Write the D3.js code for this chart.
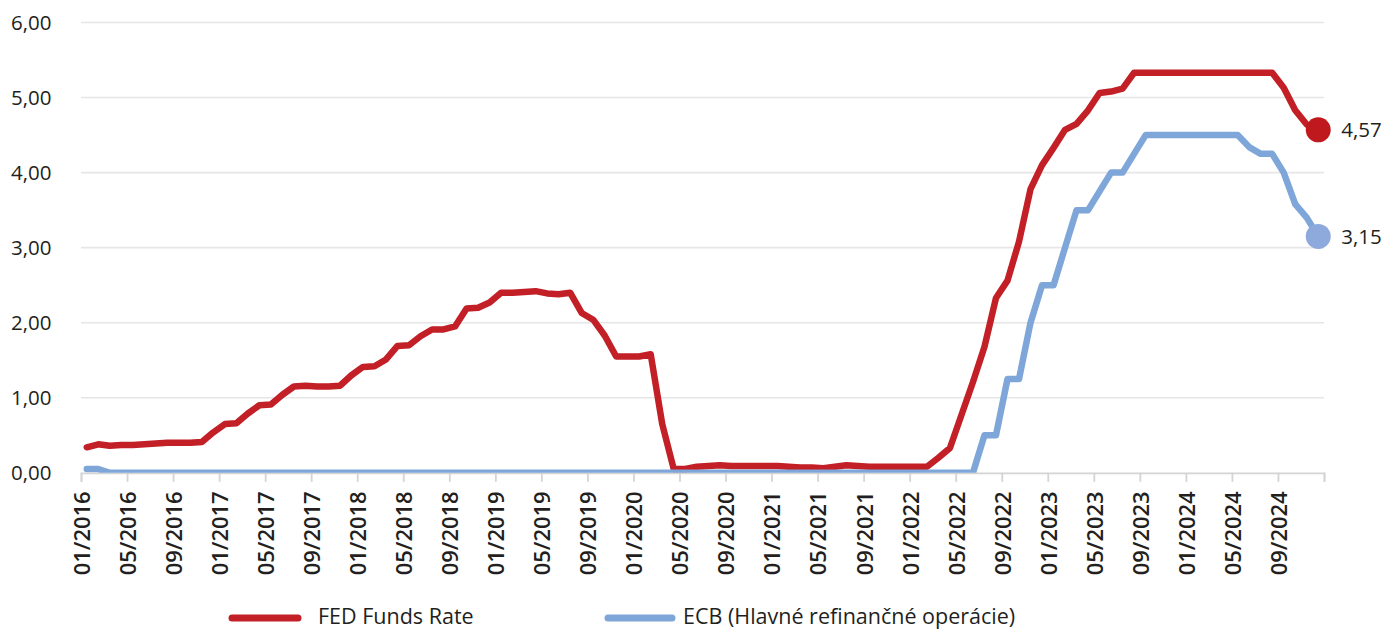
<!DOCTYPE html>
<html>
<head>
<meta charset="utf-8">
<script src="https://cdn.jsdelivr.net/npm/d3@7"></script>
<style>
  html, body { margin: 0; padding: 0; background: #ffffff; }
  svg { display: block; font-family: "Open Sans", "Noto Sans", sans-serif; }
</style>
</head>
<body>
<svg id="chart" width="1382" height="631"></svg>
<script>
// Monthly categories, 01/2016 – 12/2024
const months = [
  "01/2016","02/2016","03/2016","04/2016","05/2016","06/2016","07/2016","08/2016","09/2016","10/2016","11/2016","12/2016",
  "01/2017","02/2017","03/2017","04/2017","05/2017","06/2017","07/2017","08/2017","09/2017","10/2017","11/2017","12/2017",
  "01/2018","02/2018","03/2018","04/2018","05/2018","06/2018","07/2018","08/2018","09/2018","10/2018","11/2018","12/2018",
  "01/2019","02/2019","03/2019","04/2019","05/2019","06/2019","07/2019","08/2019","09/2019","10/2019","11/2019","12/2019",
  "01/2020","02/2020","03/2020","04/2020","05/2020","06/2020","07/2020","08/2020","09/2020","10/2020","11/2020","12/2020",
  "01/2021","02/2021","03/2021","04/2021","05/2021","06/2021","07/2021","08/2021","09/2021","10/2021","11/2021","12/2021",
  "01/2022","02/2022","03/2022","04/2022","05/2022","06/2022","07/2022","08/2022","09/2022","10/2022","11/2022","12/2022",
  "01/2023","02/2023","03/2023","04/2023","05/2023","06/2023","07/2023","08/2023","09/2023","10/2023","11/2023","12/2023",
  "01/2024","02/2024","03/2024","04/2024","05/2024","06/2024","07/2024","08/2024","09/2024","10/2024","11/2024","12/2024"
];

// FED Funds Rate (%)
const fedRate = [
  0.34, 0.38, 0.36, 0.37, 0.37, 0.38, 0.39, 0.40, 0.40, 0.40, 0.41, 0.54,
  0.65, 0.66, 0.79, 0.90, 0.91, 1.04, 1.15, 1.16, 1.15, 1.15, 1.16, 1.30,
  1.41, 1.42, 1.51, 1.69, 1.70, 1.82, 1.91, 1.91, 1.95, 2.19, 2.20, 2.27,
  2.40, 2.40, 2.41, 2.42, 2.39, 2.38, 2.40, 2.13, 2.04, 1.83, 1.55, 1.55,
  1.55, 1.58, 0.65, 0.05, 0.05, 0.08, 0.09, 0.10, 0.09, 0.09, 0.09, 0.09,
  0.09, 0.08, 0.07, 0.07, 0.06, 0.08, 0.10, 0.09, 0.08, 0.08, 0.08, 0.08,
  0.08, 0.08, 0.20, 0.33, 0.77, 1.21, 1.68, 2.33, 2.56, 3.08, 3.78, 4.10,
  4.33, 4.57, 4.65, 4.83, 5.06, 5.08, 5.12, 5.33, 5.33, 5.33, 5.33, 5.33,
  5.33, 5.33, 5.33, 5.33, 5.33, 5.33, 5.33, 5.33, 5.13, 4.83, 4.64, 4.57
];

// ECB main refinancing operations rate (%)
const ecbRate = [
  0.05, 0.05, 0.00, 0.00, 0.00, 0.00, 0.00, 0.00, 0.00, 0.00, 0.00, 0.00,
  0.00, 0.00, 0.00, 0.00, 0.00, 0.00, 0.00, 0.00, 0.00, 0.00, 0.00, 0.00,
  0.00, 0.00, 0.00, 0.00, 0.00, 0.00, 0.00, 0.00, 0.00, 0.00, 0.00, 0.00,
  0.00, 0.00, 0.00, 0.00, 0.00, 0.00, 0.00, 0.00, 0.00, 0.00, 0.00, 0.00,
  0.00, 0.00, 0.00, 0.00, 0.00, 0.00, 0.00, 0.00, 0.00, 0.00, 0.00, 0.00,
  0.00, 0.00, 0.00, 0.00, 0.00, 0.00, 0.00, 0.00, 0.00, 0.00, 0.00, 0.00,
  0.00, 0.00, 0.00, 0.00, 0.00, 0.00, 0.50, 0.50, 1.25, 1.25, 2.00, 2.50,
  2.50, 3.00, 3.50, 3.50, 3.75, 4.00, 4.00, 4.25, 4.50, 4.50, 4.50, 4.50,
  4.50, 4.50, 4.50, 4.50, 4.50, 4.34, 4.25, 4.25, 4.00, 3.58, 3.40, 3.15
];

// Axis labels
const xTickLabels = [
  "01/2016","05/2016","09/2016","01/2017","05/2017","09/2017","01/2018","05/2018","09/2018",
  "01/2019","05/2019","09/2019","01/2020","05/2020","09/2020","01/2021","05/2021","09/2021",
  "01/2022","05/2022","09/2022","01/2023","05/2023","09/2023","01/2024","05/2024","09/2024"
];
const yTicks = [0, 1, 2, 3, 4, 5, 6];

const seriesNames = ["FED Funds Rate", "ECB (Hlavné refinančné operácie)"];
const seriesColors = ["#c21f26", "#7fa6d8"];
const markerColors = ["#c0191d", "#8eaadc"];

const svg = d3.select("#chart");
const plot = { left: 81, right: 1324, top: 22.5, bottom: 472.8 };

// Category axis: each month occupies one slot, points sit at slot centres
const x = d3.scaleLinear().domain([0, months.length]).range([plot.left, plot.right]);
const y = d3.scaleLinear().domain([0, 6]).range([plot.bottom, plot.top]);
const fmt = v => d3.format(".2f")(v).replace(".", ",");

// Horizontal gridlines
svg.append("g")
  .selectAll("line")
  .data(yTicks.filter(d => d > 0))
  .join("line")
  .attr("x1", plot.left).attr("x2", plot.right)
  .attr("y1", d => y(d)).attr("y2", d => y(d))
  .attr("stroke", "#e6e6e6").attr("stroke-width", 1.6);

// Y labels
svg.append("g")
  .selectAll("text")
  .data(yTicks)
  .join("text")
  .attr("x", 51.5)
  .attr("y", d => y(d))
  .attr("dy", "0.36em")
  .attr("text-anchor", "end")
  .attr("font-size", 20.5)
  .attr("fill", "#231f20")
  .text(fmt);

// X axis
const xAxis = d3.axisBottom(x)
  .tickValues(d3.range(0, months.length + 1, 4))
  .tickSize(9)
  .tickFormat(i => xTickLabels[i / 4] || "");

const gx = svg.append("g")
  .attr("transform", `translate(0,${plot.bottom})`)
  .call(xAxis);
gx.select(".domain").attr("stroke", "#d4d4d4").attr("stroke-width", 1.8);
gx.selectAll(".tick line").attr("stroke", "#d4d4d4").attr("stroke-width", 1.8);
gx.selectAll(".tick text")
  .attr("transform", "rotate(-90)")
  .attr("x", -18.5)
  .attr("y", 0)
  .attr("dy", "0.38em")
  .attr("text-anchor", "end")
  .attr("font-family", "'Open Sans', sans-serif")
  .attr("font-size", 22)
  .attr("font-weight", 600)
  .attr("fill", "#231f20");

// Clip the lines at the zero baseline
svg.append("defs").append("clipPath").attr("id", "plot-clip")
  .append("rect")
  .attr("x", 0).attr("y", 0)
  .attr("width", 1382).attr("height", plot.bottom);

const line = d3.line()
  .x((d, i) => x(i + 0.5))
  .y(d => y(d));

const series = [fedRate, ecbRate];
const lines = svg.append("g").attr("clip-path", "url(#plot-clip)");
series.forEach((vals, k) => {
  lines.append("path")
    .datum(vals)
    .attr("fill", "none")
    .attr("stroke", seriesColors[k])
    .attr("stroke-width", 6.5)
    .attr("stroke-linejoin", "round")
    .attr("stroke-linecap", "round")
    .attr("d", line);
});

// End markers with value labels
series.forEach((vals, k) => {
  const last = vals.length - 1;
  svg.append("circle")
    .attr("cx", x(last + 0.5))
    .attr("cy", y(vals[last]))
    .attr("r", 12.5)
    .attr("fill", markerColors[k]);
  svg.append("text")
    .attr("x", x(last + 0.5) + 23)
    .attr("y", y(vals[last]))
    .attr("dy", "0.36em")
    .attr("font-size", 20.5)
    .attr("fill", "#231f20")
    .text(fmt(vals[last]));
});

// Legend
const legendItems = [
  { x1: 232, x2: 298, tx: 318 },
  { x1: 608, x2: 672, tx: 683 }
];
const legendY = 616;
legendItems.forEach((p, k) => {
  svg.append("line")
    .attr("x1", p.x1).attr("x2", p.x2)
    .attr("y1", legendY + 2).attr("y2", legendY + 2)
    .attr("stroke", seriesColors[k])
    .attr("stroke-width", 7)
    .attr("stroke-linecap", "round");
  svg.append("text")
    .attr("x", p.tx)
    .attr("y", legendY)
    .attr("dy", "0.36em")
    .attr("font-size", 21.5)
    .attr("fill", "#231f20")
    .text(seriesNames[k]);
});
</script>
</body>
</html>
